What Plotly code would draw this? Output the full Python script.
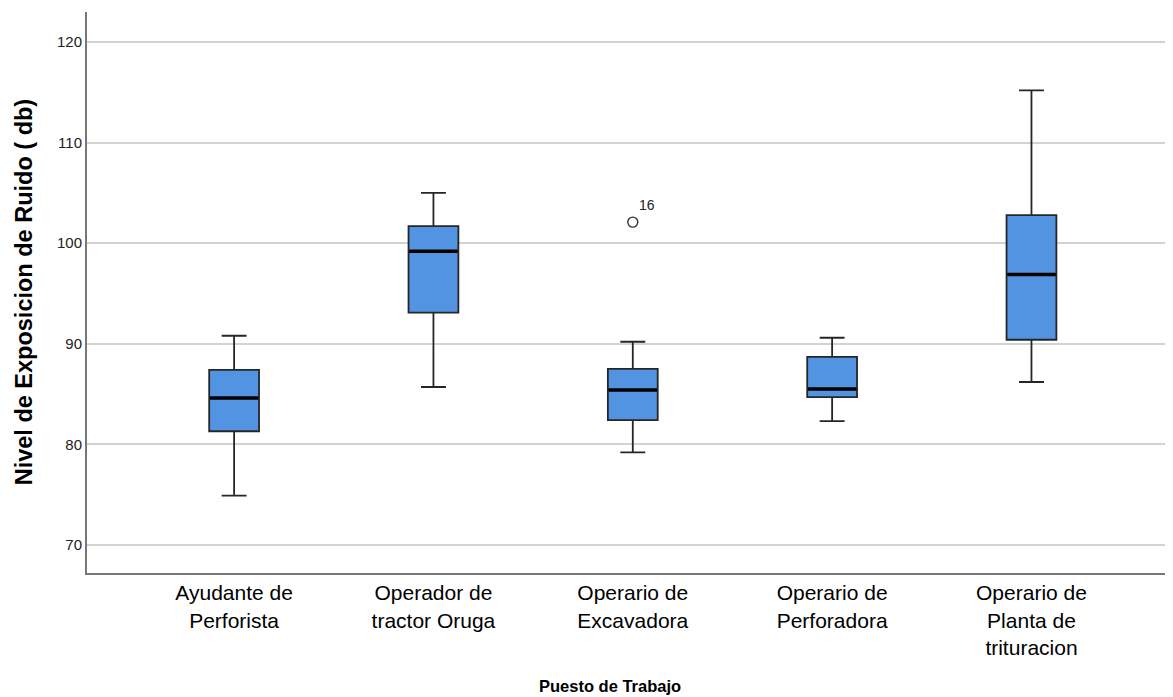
import plotly.graph_objects as go

categories = ["Ayudante de<br>Perforista", "Operador de<br>tractor Oruga", "Operario de<br>Excavadora",
              "Operario de<br>Perforadora", "Operario de<br>Planta de<br>trituracion"]
lower = [74.9, 85.7, 79.2, 82.3, 86.2]
q1 = [81.3, 93.1, 82.4, 84.7, 90.4]
median = [84.6, 99.2, 85.4, 85.5, 96.9]
q3 = [87.4, 101.7, 87.5, 88.7, 102.8]
upper = [90.8, 105.0, 90.2, 90.6, 115.2]
outlier_cat = [2]
outlier_val = [102.1]
outlier_lab = ["16"]
y_ticks = [70, 80, 90, 100, 110, 120]

pos = list(range(len(categories)))
BW = 0.25

fig = go.Figure()
fig.add_trace(go.Box(
    x=pos, q1=q1, median=median, q3=q3, lowerfence=lower, upperfence=upper,
    width=BW, whiskerwidth=0.5, fillcolor="#5294E2",
    line=dict(color="#262626", width=1.8), boxpoints=False, showlegend=False, hoverinfo="skip"))

# thick median lines
for i, m in zip(pos, median):
    fig.add_trace(go.Scatter(x=[i - BW / 2 * 0.97, i + BW / 2 * 0.97], y=[m, m], mode="lines",
                             line=dict(color="black", width=3.5), showlegend=False, hoverinfo="skip"))

fig.add_trace(go.Scatter(x=outlier_cat, y=outlier_val, mode="markers",
                         marker=dict(symbol="circle-open", size=10, color="#333333", line=dict(width=1.4)),
                         showlegend=False, hoverinfo="skip"))
for c, v, t in zip(outlier_cat, outlier_val, outlier_lab):
    fig.add_annotation(x=c, y=v, text=t, showarrow=False, xshift=14, yshift=17,
                       font=dict(family="Liberation Sans", size=14, color="#222"))

fig.add_annotation(xref="paper", yref="paper", x=0.4816, y=-0.221, yanchor="bottom",
                   text="<b>Puesto de Trabajo</b>",
                   showarrow=False, font=dict(family="Liberation Sans", size=16.5, color="black"))
fig.add_annotation(xref="paper", yref="paper", x=-0.072, y=0.5, text="<b>Nivel de Exposicion de Ruido ( db)</b>",
                   textangle=-90, showarrow=False, font=dict(family="Liberation Sans", size=23.5, color="black"))

fig.update_layout(
    width=1165, height=689, margin=dict(l=79, r=0, t=4, b=124),
    plot_bgcolor="white", paper_bgcolor="white",
    font=dict(family="Liberation Sans", color="black"),
    xaxis=dict(range=[-0.738, 4.71], tickvals=pos, ticktext=categories, showgrid=False,
               zeroline=False, showline=True, linecolor="#777777", linewidth=2,
               tickfont=dict(family="Liberation Sans", size=21, color="black"), ticks=""),
    yaxis=dict(range=[67.2, 123.0], tickvals=y_ticks, showgrid=True, gridcolor="#d3d3d3", gridwidth=2,
               zeroline=False, showline=True, linecolor="#777777", linewidth=2, ticks="",
               tickfont=dict(family="Liberation Sans", size=15, color="#222")),
)
fig.write_html("out.html")
